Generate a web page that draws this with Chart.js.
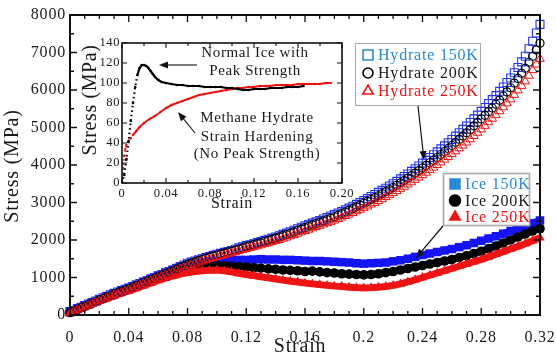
<!DOCTYPE html>
<html>
<head>
<meta charset="utf-8">
<script src="https://cdn.jsdelivr.net/npm/chart.js@4.4.0/dist/chart.umd.min.js"></script>
<style>
  html, body { margin: 0; padding: 0; background: #fff; }
  #wrap { position: relative; width: 556px; height: 356px; overflow: hidden; }
  #mainChart { position: absolute; left: 0; top: 0; width: 556px; height: 356px; }
  #insetChart { position: absolute; left: 76px; top: 32px; width: 290px; height: 182px; }
</style>
</head>
<body>
<div id="wrap">
  <canvas id="mainChart" width="556" height="356"></canvas>
  <canvas id="insetChart" width="290" height="182"></canvas>
</div>
<script>
// ---- main plot data (strain vs stress, MPa) ----
// hydrate runs are sampled more finely than the ice runs
const strainFine = [0, 0.0025, 0.005, 0.0075, 0.01, 0.0125, 0.015, 0.0175, 0.02, 0.0225, 0.025, 0.0275, 0.03, 0.0325, 0.035, 0.0375,
  0.04, 0.0425, 0.045, 0.0475, 0.05, 0.0525, 0.055, 0.0575, 0.06, 0.0625, 0.065, 0.0675, 0.07, 0.0725, 0.075, 0.0775,
  0.08, 0.0825, 0.085, 0.0875, 0.09, 0.0925, 0.095, 0.0975, 0.1, 0.1025, 0.105, 0.1075, 0.11, 0.1125, 0.115, 0.1175,
  0.12, 0.1225, 0.125, 0.1275, 0.13, 0.1325, 0.135, 0.1375, 0.14, 0.1425, 0.145, 0.1475, 0.15, 0.1525, 0.155, 0.1575,
  0.16, 0.1625, 0.165, 0.1675, 0.17, 0.1725, 0.175, 0.1775, 0.18, 0.1825, 0.185, 0.1875, 0.19, 0.1925, 0.195, 0.1975,
  0.2, 0.2025, 0.205, 0.2075, 0.21, 0.2125, 0.215, 0.2175, 0.22, 0.2225, 0.225, 0.2275, 0.23, 0.2325, 0.235, 0.2375,
  0.24, 0.2425, 0.245, 0.2475, 0.25, 0.2525, 0.255, 0.2575, 0.26, 0.2625, 0.265, 0.2675, 0.27, 0.2725, 0.275, 0.2775,
  0.28, 0.2825, 0.285, 0.2875, 0.29, 0.2925, 0.295, 0.2975, 0.3, 0.3025, 0.305, 0.3075, 0.31, 0.3125, 0.315, 0.3175, 0.32];

const hydrate150 = [80, 120, 165, 205, 250, 290, 335, 375, 420, 460, 500, 540, 580, 615, 650, 685,
  720, 760, 800, 840, 880, 920, 960, 1000, 1040, 1080, 1120, 1160, 1200, 1245, 1290, 1335,
  1380, 1410, 1440, 1470, 1500, 1530, 1560, 1590, 1620, 1645, 1670, 1695, 1720, 1755, 1790, 1820,
  1850, 1875, 1900, 1930, 1960, 1990, 2020, 2050, 2080, 2115, 2150, 2185, 2220, 2260, 2300, 2340,
  2380, 2415, 2450, 2485, 2520, 2560, 2600, 2640, 2680, 2720, 2760, 2805, 2850, 2900, 2950, 3000,
  3050, 3105, 3160, 3215, 3270, 3325, 3380, 3440, 3500, 3565, 3630, 3695, 3760, 3830, 3900, 3975,
  4050, 4125, 4200, 4275, 4350, 4430, 4510, 4595, 4680, 4770, 4860, 4950, 5040, 5135, 5230, 5330,
  5430, 5535, 5640, 5745, 5850, 5965, 6080, 6200, 6320, 6460, 6600, 6750, 6900, 7100, 7300, 7520, 7750];
const hydrate200 = [60, 100, 145, 190, 230, 275, 315, 360, 400, 440, 480, 520, 560, 595, 630, 665,
  700, 740, 780, 820, 860, 900, 940, 980, 1020, 1060, 1100, 1140, 1180, 1225, 1265, 1310,
  1350, 1385, 1415, 1450, 1480, 1510, 1540, 1570, 1600, 1625, 1650, 1675, 1700, 1730, 1760, 1790,
  1820, 1850, 1875, 1905, 1930, 1960, 1990, 2020, 2050, 2080, 2115, 2145, 2180, 2215, 2255, 2290,
  2330, 2365, 2400, 2435, 2470, 2505, 2545, 2580, 2620, 2660, 2705, 2745, 2790, 2835, 2885, 2930,
  2980, 3030, 3080, 3130, 3180, 3235, 3290, 3345, 3400, 3460, 3525, 3585, 3650, 3715, 3785, 3850,
  3920, 3990, 4060, 4130, 4200, 4280, 4360, 4440, 4520, 4605, 4690, 4775, 4860, 4950, 5045, 5135,
  5230, 5325, 5425, 5520, 5620, 5730, 5840, 5950, 6060, 6185, 6310, 6445, 6580, 6740, 6900, 7070, 7250];
const hydrate250 = [50, 90, 130, 170, 210, 250, 290, 330, 370, 410, 450, 490, 530, 565, 600, 635,
  670, 710, 750, 790, 830, 870, 910, 950, 990, 1030, 1065, 1105, 1140, 1180, 1220, 1260,
  1300, 1335, 1365, 1400, 1430, 1460, 1490, 1520, 1550, 1575, 1600, 1625, 1650, 1680, 1705, 1735,
  1760, 1785, 1810, 1835, 1860, 1890, 1915, 1945, 1970, 2000, 2035, 2065, 2100, 2135, 2170, 2205,
  2240, 2275, 2310, 2345, 2380, 2415, 2450, 2485, 2520, 2560, 2600, 2640, 2680, 2720, 2765, 2805,
  2850, 2895, 2945, 2990, 3040, 3090, 3145, 3195, 3250, 3305, 3365, 3420, 3480, 3540, 3605, 3665,
  3730, 3795, 3865, 3930, 4000, 4070, 4145, 4215, 4290, 4365, 4445, 4520, 4600, 4685, 4775, 4860,
  4950, 5045, 5140, 5235, 5330, 5435, 5540, 5645, 5750, 5870, 5990, 6110, 6230, 6380, 6530, 6680, 6830];

const strain = [0, 0.005, 0.01, 0.015, 0.02, 0.025, 0.03, 0.035, 0.04, 0.045, 0.05, 0.055, 0.06, 0.065, 0.07, 0.075,
  0.08, 0.085, 0.09, 0.095, 0.1, 0.105, 0.11, 0.115, 0.12, 0.125, 0.13, 0.135, 0.14, 0.145, 0.15, 0.155,
  0.16, 0.165, 0.17, 0.175, 0.18, 0.185, 0.19, 0.195, 0.2, 0.205, 0.21, 0.215, 0.22, 0.225, 0.23, 0.235,
  0.24, 0.245, 0.25, 0.255, 0.26, 0.265, 0.27, 0.275, 0.28, 0.285, 0.29, 0.295, 0.3, 0.305, 0.31, 0.315, 0.32];

const ice150 = [100, 180, 260, 340, 420, 500, 580, 650, 720, 800, 880, 970, 1050, 1130, 1200, 1270,
  1330, 1370, 1400, 1420, 1440, 1450, 1460, 1470, 1470, 1480, 1490, 1480, 1480, 1470, 1470, 1460,
  1450, 1440, 1440, 1430, 1420, 1410, 1400, 1380, 1370, 1380, 1390, 1400, 1430, 1460, 1500, 1550,
  1600, 1640, 1680, 1720, 1760, 1810, 1860, 1920, 1980, 2040, 2100, 2170, 2240, 2310, 2380, 2450, 2520];
const ice200 = [80, 160, 240, 320, 400, 470, 540, 610, 680, 760, 840, 920, 1000, 1070, 1140, 1200,
  1250, 1280, 1300, 1310, 1320, 1310, 1300, 1290, 1280, 1260, 1250, 1230, 1220, 1200, 1190, 1180,
  1160, 1170, 1150, 1130, 1120, 1100, 1090, 1080, 1070, 1080, 1100, 1130, 1160, 1200, 1240, 1280,
  1320, 1360, 1400, 1440, 1480, 1530, 1580, 1640, 1700, 1770, 1840, 1920, 2000, 2080, 2160, 2240, 2300];
const ice250 = [60, 140, 220, 300, 370, 440, 510, 580, 640, 710, 780, 850, 920, 980, 1040, 1090,
  1130, 1160, 1180, 1190, 1200, 1180, 1150, 1110, 1080, 1050, 1020, 990, 960, 930, 900, 880,
  850, 830, 810, 790, 770, 760, 740, 730, 720, 730, 740, 760, 790, 830, 880, 940,
  1000, 1060, 1120, 1180, 1240, 1300, 1360, 1420, 1480, 1550, 1620, 1690, 1760, 1830, 1900, 1980, 2060];

// ---- inset data (strain vs stress, MPa) ----
const insetIceStrain = [0, 0.002, 0.004, 0.006, 0.008, 0.010, 0.012, 0.014, 0.016, 0.018,
  0.020, 0.022, 0.024, 0.026, 0.028, 0.030, 0.033, 0.036, 0.040, 0.045,
  0.050, 0.055, 0.060, 0.065, 0.070, 0.075, 0.080, 0.085, 0.090, 0.095,
  0.100, 0.105, 0.110, 0.115, 0.120, 0.125, 0.130, 0.135, 0.140, 0.145,
  0.150, 0.155, 0.160, 0.165];
const insetIceStress = [0, 8, 24, 42, 62, 80, 96, 108, 115, 118,
  118, 117, 115, 112, 109, 106, 103, 101, 100, 99,
  98, 98, 97, 97, 97, 96, 96, 96, 96, 95,
  95, 94, 93, 93, 94, 94, 94, 95, 95, 95,
  96, 96, 96, 97];
const insetHydrateStrain = [0, 0.001, 0.002, 0.003, 0.004, 0.006, 0.008, 0.010, 0.013, 0.016,
  0.020, 0.025, 0.030, 0.035, 0.040, 0.045, 0.050, 0.055, 0.060, 0.065,
  0.070, 0.075, 0.080, 0.085, 0.090, 0.095, 0.100, 0.105, 0.110, 0.115,
  0.120, 0.125, 0.130, 0.135, 0.140, 0.145, 0.150, 0.155, 0.160, 0.165,
  0.170, 0.175, 0.180, 0.185, 0.190];
const insetHydrateStress = [0, 15, 27, 34, 38, 42, 45, 48, 52, 56,
  60, 64, 67, 71, 75, 78, 80, 82, 84, 86,
  88, 89, 90, 91, 92, 93, 94, 95, 95, 96,
  96, 97, 97, 97, 98, 98, 98, 98, 99, 99,
  99, 99, 99, 100, 100];

const SERIF = "'Liberation Serif', 'Times New Roman', serif";
Chart.defaults.font.family = SERIF;
Chart.defaults.color = '#1a1a1a';

const BLUE = '#1414f5';
const LEGEND_BLUE = '#2a8ad4';
const RED = '#ee1414';
const BLACK = '#000';

function toPoints(xs, ys) {
  return xs.map((x, i) => ({ x: x, y: ys[i] }));
}

function arrow(ctx, x1, y1, x2, y2) {
  const ang = Math.atan2(y2 - y1, x2 - x1);
  ctx.beginPath();
  ctx.moveTo(x1, y1);
  ctx.lineTo(x2 - 6 * Math.cos(ang), y2 - 6 * Math.sin(ang));
  ctx.stroke();
  ctx.beginPath();
  ctx.moveTo(x2, y2);
  ctx.lineTo(x2 - 9 * Math.cos(ang) + 3.5 * Math.sin(ang), y2 - 9 * Math.sin(ang) - 3.5 * Math.cos(ang));
  ctx.lineTo(x2 - 9 * Math.cos(ang) - 3.5 * Math.sin(ang), y2 - 9 * Math.sin(ang) + 3.5 * Math.cos(ang));
  ctx.closePath();
  ctx.fill();
}

function legendMarker(ctx, style, radius, x, y, color, filled) {
  ctx.strokeStyle = color;
  ctx.fillStyle = filled ? color : 'rgba(0,0,0,0)';
  ctx.lineWidth = 1.6;
  Chart.helpers.drawPoint(ctx, { pointStyle: style, radius: radius, rotation: 0, borderWidth: 1.6 }, x, y);
}

// box, inside ticks, axis titles, legends and arrows of the main plot
const mainFrame = {
  id: 'mainFrame',
  beforeDraw(chart) {
    chart.ctx.letterSpacing = '0.8px';
  },
  afterDraw(chart) {
    const { ctx, chartArea: a, scales: { x, y } } = chart;
    ctx.save();
    ctx.strokeStyle = '#111';
    ctx.lineWidth = 1.3;
    ctx.beginPath();
    for (let i = 0; i <= 32; i++) {
      const px = x.getPixelForValue(i / 100);
      const len = i % 4 === 0 ? 7 : 4;
      ctx.moveTo(px, a.bottom); ctx.lineTo(px, a.bottom - len);
      ctx.moveTo(px, a.top); ctx.lineTo(px, a.top + len);
    }
    for (let i = 0; i <= 16; i++) {
      const py = y.getPixelForValue(i * 500);
      const len = i % 2 === 0 ? 7 : 4;
      ctx.moveTo(a.left, py); ctx.lineTo(a.left + len, py);
      ctx.moveTo(a.right, py); ctx.lineTo(a.right - len, py);
    }
    ctx.stroke();
    ctx.lineWidth = 2;
    ctx.strokeRect(a.left, a.top, a.right - a.left, a.bottom - a.top);

    // axis titles
    ctx.fillStyle = '#1a1a1a';
    ctx.font = '20px ' + SERIF;
    ctx.textAlign = 'center';
    ctx.textBaseline = 'middle';
    ctx.fillText('Strain', 300, 347);
    ctx.save();
    ctx.translate(13, 166);
    ctx.rotate(-Math.PI / 2);
    ctx.fillText('Stress (MPa)', 0, 0);
    ctx.restore();

    // hydrate legend
    ctx.fillStyle = '#fff';
    ctx.fillRect(355, 43, 125, 62);
    ctx.strokeStyle = '#a8a8a8';
    ctx.lineWidth = 1;
    ctx.strokeRect(355.5, 43.5, 125, 62);
    ctx.font = '16px ' + SERIF;
    ctx.textAlign = 'left';
    const hRows = [
      ['Hydrate 150K', 'rect', 7, LEGEND_BLUE, 55],
      ['Hydrate 200K', 'circle', 5, BLACK, 73],
      ['Hydrate 250K', 'triangle', 6, RED, 91]
    ];
    hRows.forEach(r => {
      legendMarker(ctx, r[1], r[2], 368, r[4], r[3], false);
      ctx.fillStyle = r[3] === BLACK ? '#1a1a1a' : r[3];
      ctx.fillText(r[0], 378, r[4] + 1);
    });

    // ice legend
    ctx.fillStyle = '#fff';
    ctx.fillRect(443, 173, 86, 52);
    ctx.strokeStyle = '#a8a8a8';
    ctx.strokeRect(443.5, 173.5, 86, 52);
    const iRows = [
      ['Ice 150K', 'rect', 7, LEGEND_BLUE, 184],
      ['Ice 200K', 'circle', 5.5, BLACK, 200.5],
      ['Ice 250K', 'triangle', 6, RED, 217]
    ];
    iRows.forEach(r => {
      legendMarker(ctx, r[1], r[2], 455, r[4], r[3], true);
      ctx.fillStyle = r[3] === BLACK ? '#1a1a1a' : r[3];
      ctx.fillText(r[0], 465, r[4] + 1);
    });

    // pointer arrows
    ctx.strokeStyle = '#111';
    ctx.fillStyle = '#111';
    ctx.lineWidth = 1.2;
    arrow(ctx, 418, 106, 424, 160);
    arrow(ctx, 443, 226, 416, 258);
    ctx.restore();
  }
};

const mainChart = new Chart(document.getElementById('mainChart'), {
  type: 'scatter',
  data: {
    datasets: [
      {
        label: 'Hydrate 250K', data: toPoints(strainFine, hydrate250), order: 0, clip: false,
        pointStyle: 'triangle', pointRadius: 5, pointBorderWidth: 1,
        borderColor: RED, backgroundColor: 'rgba(0,0,0,0)'
      },
      {
        label: 'Hydrate 200K', data: toPoints(strainFine, hydrate200), order: 1, clip: false,
        pointStyle: 'circle', pointRadius: 4, pointBorderWidth: 1.2,
        borderColor: BLACK, backgroundColor: 'rgba(0,0,0,0)'
      },
      {
        label: 'Hydrate 150K', data: toPoints(strainFine, hydrate150), order: 2, clip: false,
        pointStyle: 'rect', pointRadius: 5.6, pointBorderWidth: 1.1,
        borderColor: '#2233ee', backgroundColor: 'rgba(0,0,0,0)'
      },
      {
        label: 'Ice 250K', data: toPoints(strain, ice250), order: 3, clip: false,
        showLine: true, borderWidth: 7, pointStyle: 'triangle', pointRadius: 5.5, pointBorderWidth: 0,
        borderColor: RED, backgroundColor: RED
      },
      {
        label: 'Ice 200K', data: toPoints(strain, ice200), order: 4, clip: false,
        showLine: true, borderWidth: 7, pointStyle: 'circle', pointRadius: 4.8, pointBorderWidth: 0,
        borderColor: BLACK, backgroundColor: BLACK
      },
      {
        label: 'Ice 150K', data: toPoints(strain, ice150), order: 5, clip: false,
        showLine: true, borderWidth: 7, pointStyle: 'rect', pointRadius: 6, pointBorderWidth: 0,
        borderColor: BLUE, backgroundColor: BLUE
      }
    ]
  },
  options: {
    responsive: false,
    animation: false,
    layout: { padding: { top: 15, right: 16, left: 0, bottom: 0 }, autoPadding: false },
    plugins: { legend: { display: false }, tooltip: { enabled: false } },
    scales: {
      x: {
        type: 'linear', min: 0, max: 0.32,
        afterFit: s => { s.height = 41; s.paddingLeft = 0; s.paddingRight = 0; },
        grid: { display: false, drawTicks: false },
        border: { display: false },
        ticks: {
          stepSize: 0.04, padding: 13, maxRotation: 0, autoSkip: false,
          font: { size: 16 }, color: '#1a1a1a',
          callback: v => String(Math.round(v * 100) / 100)
        }
      },
      y: {
        type: 'linear', min: 0, max: 8000,
        afterFit: s => { s.width = 70; s.paddingTop = 0; s.paddingBottom = 0; },
        grid: { display: false, drawTicks: false },
        border: { display: false },
        ticks: { stepSize: 1000, padding: 4, font: { size: 16 }, color: '#1a1a1a', callback: v => String(v) }
      }
    }
  },
  plugins: [mainFrame]
});

// white panel, ticks, titles and notes of the inset
const insetFrame = {
  id: 'insetFrame',
  beforeDraw(chart) {
    const { ctx, chartArea: a } = chart;
    ctx.letterSpacing = '0.6px';
    ctx.save();
    ctx.fillStyle = '#fff';
    ctx.fillRect(a.left, a.top, a.right - a.left, a.bottom - a.top);
    ctx.restore();
  },
  afterDraw(chart) {
    const { ctx, chartArea: a, scales: { x, y } } = chart;
    ctx.save();
    ctx.strokeStyle = '#111';
    ctx.lineWidth = 1.1;
    ctx.beginPath();
    for (let i = 0; i <= 10; i++) {
      const px = x.getPixelForValue(i / 50);
      const len = i % 2 === 0 ? 5 : 3;
      ctx.moveTo(px, a.bottom); ctx.lineTo(px, a.bottom - len);
      ctx.moveTo(px, a.top); ctx.lineTo(px, a.top + len);
    }
    for (let i = 0; i <= 7; i++) {
      const py = y.getPixelForValue(i * 20);
      ctx.moveTo(a.left, py); ctx.lineTo(a.left + 5, py);
      ctx.moveTo(a.right, py); ctx.lineTo(a.right - 5, py);
    }
    ctx.stroke();
    ctx.lineWidth = 1.6;
    ctx.strokeRect(a.left, a.top, a.right - a.left, a.bottom - a.top);

    ctx.fillStyle = '#1a1a1a';
    ctx.textAlign = 'center';
    ctx.textBaseline = 'middle';
    ctx.font = '16px ' + SERIF;
    ctx.fillText('Strain', 156, 172);
    ctx.save();
    ctx.translate(15, 68);
    ctx.rotate(-Math.PI / 2);
    ctx.font = '20px ' + SERIF;
    ctx.fillText('Stress (MPa)', 0, 0);
    ctx.restore();

    ctx.font = '15px ' + SERIF;
    ctx.fillText('Normal Ice with', 179, 21);
    ctx.fillText('Peak Strength', 179, 39);
    ctx.fillText('Methane Hydrate', 181, 86);
    ctx.fillText('Strain Hardening', 181, 105);
    ctx.fillText('(No Peak Strength)', 181, 122);

    ctx.strokeStyle = '#111';
    ctx.fillStyle = '#111';
    ctx.lineWidth = 1.1;
    arrow(ctx, 121, 33, 83, 33);
    arrow(ctx, 119, 101, 102, 80);
    ctx.restore();
  }
};

const insetChart = new Chart(document.getElementById('insetChart'), {
  type: 'scatter',
  data: {
    datasets: [
      {
        label: 'Normal Ice', data: toPoints(insetIceStrain, insetIceStress),
        showLine: true, borderWidth: 2.2, borderColor: BLACK, backgroundColor: BLACK,
        pointRadius: 1.3, pointBorderWidth: 0,
        segment: { borderDash: c => (c.p0.parsed.x < 0.014 ? [1.5, 3] : undefined) }
      },
      {
        label: 'Methane Hydrate', data: toPoints(insetHydrateStrain, insetHydrateStress),
        showLine: true, borderWidth: 2, borderColor: RED, backgroundColor: RED,
        pointRadius: 1.2, pointBorderWidth: 0,
        segment: { borderDash: c => (c.p0.parsed.x < 0.01 ? [1.5, 3] : undefined) }
      }
    ]
  },
  options: {
    responsive: false,
    animation: false,
    layout: { padding: { top: 11, right: 24, left: 0, bottom: 0 }, autoPadding: false },
    plugins: { legend: { display: false }, tooltip: { enabled: false } },
    scales: {
      x: {
        type: 'linear', min: 0, max: 0.2,
        afterFit: s => { s.height = 31; s.paddingLeft = 0; s.paddingRight = 0; },
        grid: { display: false, drawTicks: false },
        border: { display: false },
        ticks: {
          stepSize: 0.04, padding: 3, maxRotation: 0, autoSkip: false,
          font: { size: 12.5 }, color: '#1a1a1a',
          callback: v => (v === 0 ? '0' : v.toFixed(2))
        }
      },
      y: {
        type: 'linear', min: 0, max: 140,
        afterFit: s => { s.width = 46; s.paddingTop = 0; s.paddingBottom = 0; },
        grid: { display: false, drawTicks: false },
        border: { display: false },
        ticks: { stepSize: 20, padding: 2, font: { size: 12.5 }, color: '#1a1a1a' }
      }
    }
  },
  plugins: [insetFrame]
});
</script>
</body>
</html>
